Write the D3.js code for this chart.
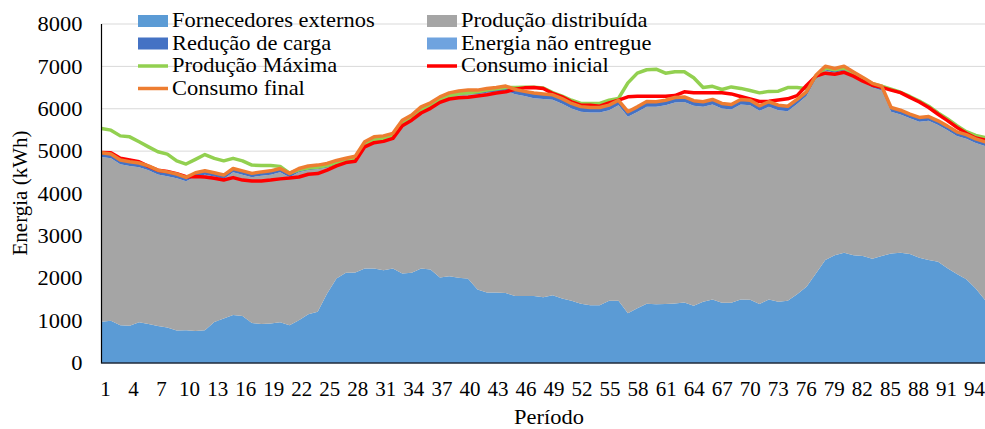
<!DOCTYPE html>
<html><head><meta charset="utf-8">
<script src="https://cdn.jsdelivr.net/npm/d3@7"></script>
<style>body{margin:0;background:#fff} text{font-family:"Liberation Serif","Times New Roman",serif;fill:#000}</style>
</head><body><svg id="c" width="985" height="429"></svg>
<script>
const periods = d3.range(1, 97);
const fornecedoresExternos = [975,995,890,880,960,920,875,835,765,775,
 755,775,965,1050,1130,1110,945,920,935,960,
 890,1010,1150,1210,1640,1995,2130,2135,2230,2230,
 2190,2230,2115,2130,2230,2205,2020,2050,2010,1990,
 1735,1665,1665,1650,1580,1580,1580,1550,1600,1525,
 1470,1400,1360,1360,1470,1470,1175,1290,1400,1385,
 1395,1405,1430,1350,1445,1500,1420,1420,1500,1495,
 1390,1500,1445,1470,1625,1800,2115,2430,2545,2600,
 2545,2525,2460,2525,2585,2600,2570,2485,2430,2390,
 2235,2100,1975,1760,1485,1350];
const producaoDistribuida = [3885,3835,3800,3770,3660,3630,3575,3575,3595,3515,
 3645,3670,3435,3295,3370,3335,3440,3500,3510,3540,
 3495,3490,3400,3360,2970,2685,2600,2645,2890,3010,
 3070,3090,3515,3620,3715,3835,4160,4225,4310,4350,
 4605,4715,4735,4775,4765,4720,4670,4680,4610,4595,
 4535,4530,4550,4550,4495,4610,4635,4635,4650,4660,
 4685,4740,4730,4720,4600,4600,4585,4560,4600,4585,
 4560,4545,4520,4470,4485,4500,4575,4475,4305,4305,
 4225,4115,4040,3905,3345,3265,3205,3210,3285,3225,
 3255,3255,3315,3430,3635,3710];
const reducaoCarga = [100,100,100,100,100,100,100,100,100,90,
 90,90,90,90,90,90,90,90,90,90,
 90,90,100,100,100,100,100,100,100,100,
 100,100,100,100,100,100,100,100,100,100,
 100,100,100,110,110,110,120,120,120,120,
 120,120,120,120,120,120,120,120,120,120,
 120,120,120,120,120,120,120,120,120,120,
 120,120,120,120,110,100,100,100,100,100,
 100,100,100,100,100,100,100,100,100,100,
 100,100,100,100,100,100];
const energiaNaoEntregue = new Array(96).fill(0);
const producaoMaxima = [5535,5495,5360,5337,5220,5100,4985,4930,4770,4695,
 4805,4920,4830,4770,4830,4770,4670,4660,4660,4640,
 4480,4560,4600,4620,4660,4730,4780,4820,5150,5270,
 5300,5360,5660,5780,5970,6070,6210,6300,6360,6380,
 6400,6440,6470,6500,6500,6510,6510,6490,6380,6300,
 6200,6125,6125,6125,6200,6245,6610,6840,6920,6935,
 6840,6875,6875,6730,6500,6530,6455,6515,6480,6430,
 6375,6410,6415,6500,6500,6470,6760,6960,6920,6960,
 6840,6720,6590,6530,6460,6390,6290,6180,6060,5900,
 5760,5600,5460,5370,5320,5250];
const consumoInicial = [4970,4960,4830,4790,4750,4640,4550,4520,4470,4395,
 4400,4390,4360,4320,4375,4316,4295,4295,4316,4345,
 4365,4390,4455,4470,4552,4650,4730,4760,5100,5200,
 5230,5300,5600,5730,5900,6010,6150,6230,6260,6270,
 6300,6330,6370,6400,6460,6493,6502,6478,6360,6281,
 6163,6085,6085,6061,6140,6203,6281,6297,6297,6297,
 6297,6310,6399,6375,6375,6375,6375,6350,6290,6230,
 6170,6175,6205,6235,6310,6550,6770,6840,6815,6860,
 6770,6650,6555,6505,6440,6380,6270,6160,6030,5870,
 5720,5560,5420,5310,5260,5200];
const consumoFinal = [4960,4930,4790,4750,4720,4650,4550,4510,4460,4380,
 4490,4535,4490,4435,4590,4535,4475,4510,4535,4590,
 4475,4590,4650,4670,4710,4780,4830,4880,5220,5340,
 5360,5420,5730,5850,6045,6140,6280,6375,6420,6440,
 6440,6480,6500,6535,6455,6410,6370,6350,6330,6240,
 6125,6050,6030,6030,6085,6200,5930,6045,6170,6165,
 6200,6265,6280,6190,6165,6220,6125,6100,6220,6200,
 6070,6165,6085,6060,6220,6400,6790,7005,6950,7005,
 6870,6740,6600,6530,6030,5965,5875,5795,5815,5715,
 5590,5455,5390,5290,5220,5160];
const xTickLabels = d3.range(1, 95, 3);
const yTickLabels = d3.range(0, 8001, 1000);

const areaSeries = [
  {key: "F", name: "Fornecedores externos", values: fornecedoresExternos, color: "#5B9BD5"},
  {key: "PD", name: "Produção distribuída", values: producaoDistribuida, color: "#A5A5A5"},
  {key: "R", name: "Redução de carga", values: reducaoCarga, color: "#4472C4"},
  {key: "E", name: "Energia não entregue", values: energiaNaoEntregue, color: "#6FA3DF"}
];
const lineSeries = [
  {name: "Produção Máxima", values: producaoMaxima, color: "#92D050"},
  {name: "Consumo inicial", values: consumoInicial, color: "#FF0000"},
  {name: "Consumo final", values: consumoFinal, color: "#ED7D31"}
];

const FS = 21, SX = 1.07;
function stretch(sel, k) {
  sel.each(function () {
    const t = d3.select(this);
    const tx = +t.attr("x") || 0, ty = +t.attr("y") || 0;
    t.attr("transform", `translate(${tx},${ty}) scale(${k || SX},1) translate(${-tx},${-ty})`);
  });
}

const svg = d3.select("#c");
const plotLeft = 101.5, plotBottom = 363, plotTop = 24;
const x = d3.scaleLinear().domain([1, 96]).range([plotLeft, plotLeft + 95 * 9.4]);
const xLabelPos = d3.scaleLinear().domain([1, 94]).range([105, 974]);
const y = d3.scaleLinear().domain([0, 8000]).range([plotBottom, plotTop]);

svg.append("defs").append("clipPath").attr("id", "clip")
  .append("rect").attr("x", plotLeft).attr("y", 0).attr("width", 985 - plotLeft).attr("height", plotBottom);

svg.append("g").selectAll("line").data(yTickLabels.slice(1)).join("line")
  .attr("x1", plotLeft).attr("x2", 985).attr("y1", d => y(d)).attr("y2", d => y(d))
  .attr("stroke", "#D9D9D9").attr("stroke-width", 1);

const rows = periods.map((p, i) => {
  const r = {p};
  areaSeries.forEach(s => r[s.key] = s.values[i]);
  return r;
});
const stacked = d3.stack().keys(areaSeries.map(s => s.key))(rows);
const area = d3.area().x(d => x(d.data.p)).y0(d => y(d[0])).y1(d => y(d[1]));
const plot = svg.append("g").attr("clip-path", "url(#clip)");
plot.selectAll("path.area").data(stacked).join("path").attr("class", "area")
  .attr("d", area).attr("fill", (d, i) => areaSeries[i].color);

const line = d3.line().x((d, i) => x(periods[i])).y(d => y(d));
plot.selectAll("path.line").data(lineSeries).join("path").attr("class", "line")
  .attr("d", d => line(d.values)).attr("fill", "none")
  .attr("stroke", d => d.color).attr("stroke-width", 3.5).attr("stroke-linejoin", "round");

const yAxis = d3.axisLeft(y).tickValues(yTickLabels).tickSize(0).tickPadding(19).tickFormat(d3.format("d"));
const gy = svg.append("g").attr("transform", `translate(${plotLeft},0)`).call(yAxis);
gy.select(".domain").remove();
gy.selectAll("text").attr("font-size", FS).attr("font-family", "Liberation Serif").call(stretch);

const xAxis = d3.axisBottom(xLabelPos).tickValues(xTickLabels).tickSize(0).tickPadding(18);
const gx = svg.append("g").attr("transform", `translate(0,${plotBottom})`).call(xAxis);
gx.select(".domain").remove();
gx.selectAll("text").attr("font-size", FS).attr("font-family", "Liberation Serif");

svg.append("line").attr("x1", plotLeft).attr("x2", plotLeft).attr("y1", plotTop).attr("y2", plotBottom + 0.5)
  .attr("stroke", "#000").attr("stroke-width", 1.2);
svg.append("line").attr("x1", plotLeft).attr("x2", 985).attr("y1", plotBottom).attr("y2", plotBottom)
  .attr("stroke", "#1F2A3A").attr("stroke-width", 1.5);

svg.append("text").attr("x", 549).attr("y", 424).attr("text-anchor", "middle")
  .attr("font-size", FS).text("Período").call(stretch);
svg.append("text").attr("transform", "translate(27,193) rotate(-90)").attr("text-anchor", "middle")
  .attr("font-size", FS).text("Energia (kWh)");

const legendItems = [
  {s: areaSeries[0], type: "area", col: 0, row: 0},
  {s: areaSeries[1], type: "area", col: 1, row: 0},
  {s: areaSeries[2], type: "area", col: 0, row: 1},
  {s: areaSeries[3], type: "area", col: 1, row: 1},
  {s: lineSeries[0], type: "line", col: 0, row: 2},
  {s: lineSeries[1], type: "line", col: 1, row: 2},
  {s: lineSeries[2], type: "line", col: 0, row: 3}
];
const colX = [138, 427], rowY = [21, 43.5, 66, 88.5];
const lg = svg.append("g");
legendItems.forEach(it => {
  const gx0 = colX[it.col], cy = rowY[it.row];
  if (it.type === "area") {
    lg.append("rect").attr("x", gx0).attr("y", cy - 6).attr("width", 30).attr("height", 12).attr("fill", it.s.color);
  } else {
    lg.append("line").attr("x1", gx0).attr("x2", gx0 + 30).attr("y1", cy).attr("y2", cy)
      .attr("stroke", it.s.color).attr("stroke-width", 3.5);
  }
  lg.append("text").attr("x", gx0 + 34).attr("y", cy + 6.5).attr("font-size", FS).text(it.s.name).call(stretch);
});
</script></body></html>
